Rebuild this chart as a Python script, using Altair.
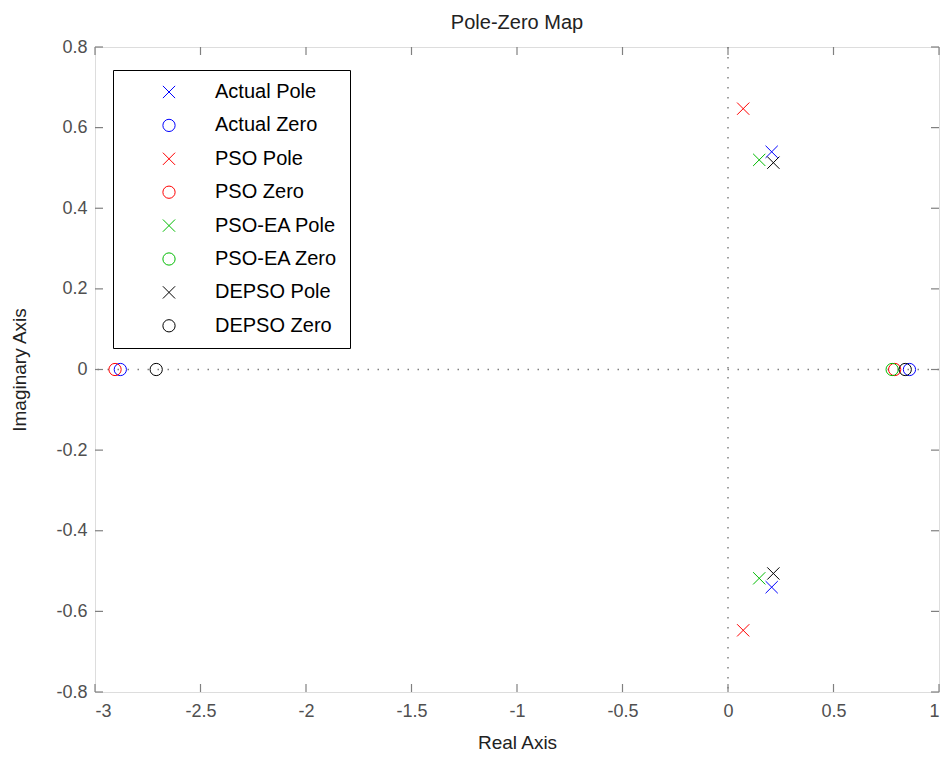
import altair as alt
import pandas as pd

# ---- data ----
series = ["Actual Pole", "Actual Zero", "PSO Pole", "PSO Zero",
          "PSO-EA Pole", "PSO-EA Zero", "DEPSO Pole", "DEPSO Zero"]
colors = ["#0000ff", "#0000ff", "#ff0000", "#ff0000",
          "#00bb00", "#00bb00", "#000000", "#000000"]

actual_pole_re = [0.207, 0.207]
actual_pole_im = [0.54, -0.54]
actual_zero_re = [-2.88, 0.86]
actual_zero_im = [0.0, 0.0]
pso_pole_re = [0.072, 0.072]
pso_pole_im = [0.647, -0.647]
pso_zero_re = [-2.905, 0.79]
pso_zero_im = [0.0, 0.0]
psoea_pole_re = [0.148, 0.148]
psoea_pole_im = [0.52, -0.518]
psoea_zero_re = [0.778]
psoea_zero_im = [0.0]
depso_pole_re = [0.215, 0.215]
depso_pole_im = [0.513, -0.506]
depso_zero_re = [-2.71, 0.84]
depso_zero_im = [0.0, 0.0]

x_ticks = [-3, -2.5, -2, -1.5, -1, -0.5, 0, 0.5, 1]
y_ticks = [-0.8, -0.6, -0.4, -0.2, 0, 0.2, 0.4, 0.6, 0.8]

groups = [
    ("Actual Pole", actual_pole_re, actual_pole_im),
    ("Actual Zero", actual_zero_re, actual_zero_im),
    ("PSO Pole", pso_pole_re, pso_pole_im),
    ("PSO Zero", pso_zero_re, pso_zero_im),
    ("PSO-EA Pole", psoea_pole_re, psoea_pole_im),
    ("PSO-EA Zero", psoea_zero_re, psoea_zero_im),
    ("DEPSO Pole", depso_pole_re, depso_pole_im),
    ("DEPSO Zero", depso_zero_re, depso_zero_im),
]
rows = []
order = 0
for name, re_vals, im_vals in groups:
    for r, i in zip(re_vals, im_vals):
        rows.append({"series": name, "re": r, "im": i, "ord": order})
        order += 1
df = pd.DataFrame(rows)

XPATH = "M-1,-1L1,1M-1,1L1,-1"
shapes = [XPATH if s.endswith("Pole") else "circle" for s in series]

FONT = "Liberation Sans"
TXT = "#505050"
FRAME = "#808080"
TICK = 8
W, H = 844, 645

xscale = alt.Scale(domain=[-3, 1], nice=False, zero=False)
yscale = alt.Scale(domain=[-0.8, 0.8], nice=False, zero=False)

x_bottom = alt.Axis(values=x_ticks, labelExpr="datum.value + ''", domain=False,
                    ticks=False, grid=False,
                    labelPadding=10, labelColor=TXT, labelFontSize=18, labelFont=FONT,
                    title="Real Axis", titleFont=FONT, titleFontSize=19,
                    titleFontWeight="normal", titleColor="#222222", titlePadding=13)
y_left = alt.Axis(values=y_ticks, labelExpr="datum.value + ''", domain=False,
                  ticks=False, grid=False,
                  labelPadding=8, labelColor=TXT, labelFontSize=18, labelFont=FONT,
                  title="Imaginary Axis", titleFont=FONT, titleFontSize=19,
                  titleFontWeight="normal", titleColor="#222222", titlePadding=26)

legend = alt.Legend(title=None, orient="none", legendX=18, legendY=23,
                    strokeColor="#000000", fillColor="#ffffff", padding=12,
                    symbolOffset=34, labelOffset=36, rowPadding=13.4,
                    symbolSize=150, symbolStrokeWidth=1,
                    labelFont=FONT, labelFontSize=20, labelColor="#000000",
                    labelLimit=300)

# inward tick marks along the four frame edges, placed by the axis scales
xt = pd.DataFrame({"v": x_ticks})
yt = pd.DataFrame({"v": y_ticks})
tick_style = dict(color=FRAME, strokeWidth=1.2)
ticks_bottom = alt.Chart(xt).mark_rule(**tick_style).encode(
    x=alt.X("v:Q", scale=xscale, axis=x_bottom), y=alt.value(H), y2=alt.value(H - TICK))
ticks_top = alt.Chart(xt).mark_rule(**tick_style).encode(
    x=alt.X("v:Q", scale=xscale, axis=x_bottom), y=alt.value(0), y2=alt.value(TICK))
ticks_left = alt.Chart(yt).mark_rule(**tick_style).encode(
    y=alt.Y("v:Q", scale=yscale, axis=y_left), x=alt.value(0), x2=alt.value(TICK))
ticks_right = alt.Chart(yt).mark_rule(**tick_style).encode(
    y=alt.Y("v:Q", scale=yscale, axis=y_left), x=alt.value(W), x2=alt.value(W - TICK))

zero_x = pd.DataFrame({"re": [0.0]})
zero_y = pd.DataFrame({"im": [0.0]})

vline = alt.Chart(zero_x).mark_rule(color="#808080", strokeWidth=1.5,
                                    strokeDash=[1.5, 8.5]).encode(
    x=alt.X("re:Q", scale=xscale, axis=x_bottom)
)
hline = alt.Chart(zero_y).mark_rule(color="#808080", strokeWidth=1.5,
                                    strokeDash=[1.5, 8.5]).encode(
    y=alt.Y("im:Q", scale=yscale, axis=y_left)
)

points = alt.Chart(df).mark_point(filled=False, strokeWidth=1, size=150, opacity=1).encode(
    x=alt.X("re:Q", scale=xscale, axis=x_bottom),
    y=alt.Y("im:Q", scale=yscale, axis=y_left),
    color=alt.Color("series:N", scale=alt.Scale(domain=series, range=colors), legend=legend),
    shape=alt.Shape("series:N", scale=alt.Scale(domain=series, range=shapes), legend=legend),
    order=alt.Order("ord:Q"),
)

chart = alt.layer(ticks_bottom, ticks_top, ticks_left, ticks_right,
                  vline, hline, points).properties(
    width=W, height=H,
    title=alt.Title("Pole-Zero Map", font=FONT, fontSize=20, fontWeight="normal",
                    color="#222222", offset=5, anchor="middle"),
    autosize=alt.AutoSizeParams(type="none"),
    padding={"left": 95, "top": 47, "right": 2, "bottom": 69},
).configure_view(stroke=FRAME, strokeWidth=1.5).configure(background="#ffffff")

chart.save("out.html", embed_options={"renderer": "svg", "actions": False})
